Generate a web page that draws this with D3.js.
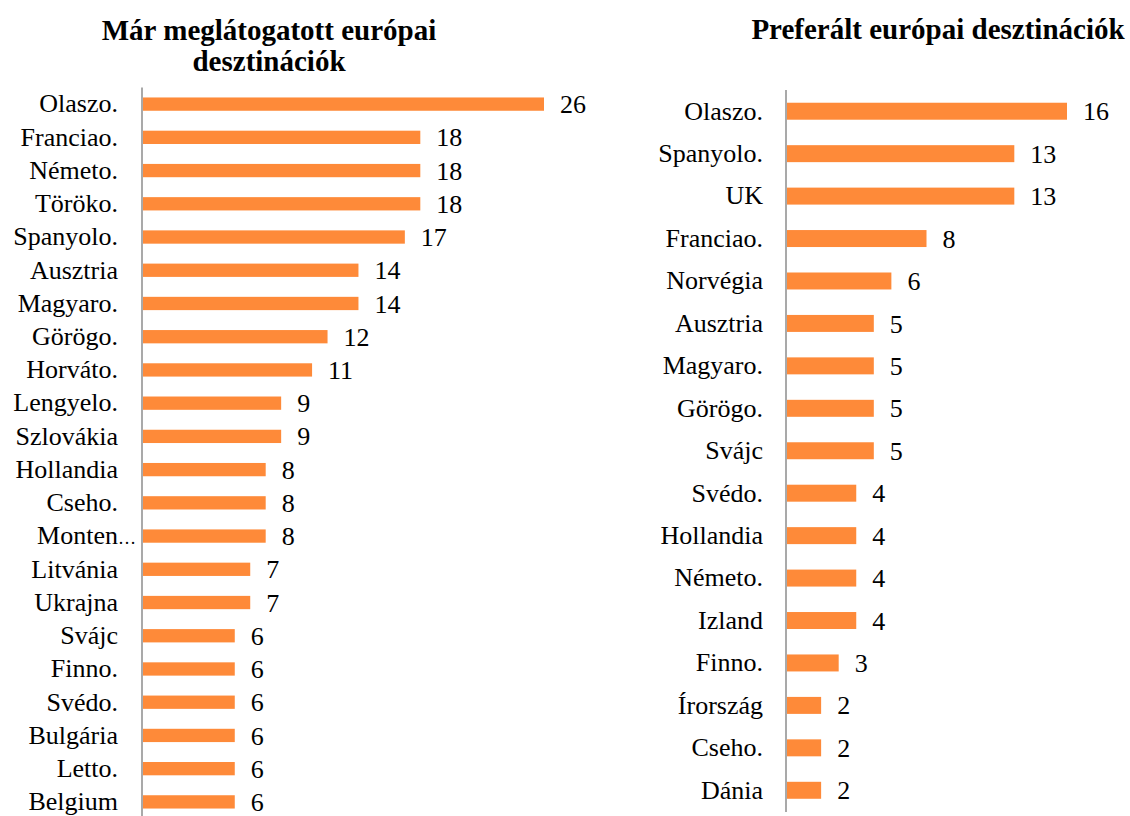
<!DOCTYPE html>
<html>
<head>
<meta charset="utf-8">
<script src="https://cdn.jsdelivr.net/npm/d3@7"></script>
<style>
  body { margin: 0; background: #fff; }
  svg text { font-family: "Liberation Serif", "Times New Roman", serif; fill: #000; }
  .title { font-weight: bold; font-size: 29px; }
  .lbl { font-size: 26px; }
</style>
</head>
<body>
<svg id="chart" width="1130" height="816"></svg>
<script>
// visited destinations (left)
let visited_names = ['Olaszo.', 'Franciao.', 'Németo.', 'Töröko.', 'Spanyolo.', 'Ausztria', 'Magyaro.',
	'Görögo.', 'Horváto.', 'Lengyelo.', 'Szlovákia', 'Hollandia', 'Cseho.', 'Monten…', 'Litvánia',
	'Ukrajna', 'Svájc', 'Finno.', 'Svédo.', 'Bulgária', 'Letto.', 'Belgium'];
let visited_values = [26, 18, 18, 18, 17, 14, 14, 12, 11, 9, 9, 8, 8, 8, 7, 7, 6, 6, 6, 6, 6, 6];

// preferred destinations (right)
let preferred_names = ['Olaszo.', 'Spanyolo.', 'UK', 'Franciao.', 'Norvégia', 'Ausztria', 'Magyaro.',
	'Görögo.', 'Svájc', 'Svédo.', 'Hollandia', 'Németo.', 'Izland', 'Finno.', 'Írország', 'Cseho.', 'Dánia'];
let preferred_values = [16, 13, 13, 8, 6, 5, 5, 5, 5, 4, 4, 4, 4, 3, 2, 2, 2];

let bar_color = '#fe8a39',
	axis_color = '#8c8c8c';

let svg = d3.select('#chart');

function render_panel(cfg) {
	let data = cfg.names.map((n, i) => ({name: n, value: cfg.values[i]}));

	let y = d3.scaleBand().domain(cfg.names)
		.range([cfg.top, cfg.bottom])
		.paddingInner(cfg.pad).paddingOuter(cfg.pad / 2);
	let x = d3.scaleLinear().domain([0, cfg.max])
		.range([cfg.left, cfg.right]);

	let g = svg.append('g');

	// titles
	cfg.title.forEach((t, i) => {
		g.append('text')
			.attr('class', 'title')
			.attr('x', cfg.title_x)
			.attr('y', cfg.title_y + i * 31)
			.attr('text-anchor', 'middle')
			.text(t);
	});

	g.selectAll('.bar')
		.data(data)
		.enter()
		.append('rect')
		.attr('class', 'bar')
		.attr('x', x(0) + 1)
		.attr('y', d => y(d.name))
		.attr('width', d => x(d.value) - x(0) - 1)
		.attr('height', y.bandwidth())
		.attr('fill', bar_color);

	g.selectAll('.val')
		.data(data)
		.enter()
		.append('text')
		.attr('class', 'lbl')
		.attr('x', d => x(d.value) + 16)
		.attr('y', d => y(d.name) + y.bandwidth() / 2)
		.attr('dy', '0.35em')
		.text(d => d.value);

	let axis = g.append('g')
		.attr('transform', `translate(${x(0)},0)`)
		.call(d3.axisLeft(y).tickSize(0).tickPadding(cfg.tick_pad));
	axis.select('.domain')
		.attr('stroke', axis_color)
		.attr('stroke-width', 1.5)
		.attr('d', `M0,${cfg.top}V${cfg.axis_end}`);
	axis.selectAll('.tick text')
		.attr('class', 'lbl')
		.attr('font-family', null)
		.attr('font-size', null)
		.attr('fill', '#000');
	// truncated label: ellipsis sticks out past the label edge
	axis.selectAll('.tick text')
		.filter(d => d.endsWith('…'))
		.attr('x', -6)
		.text(d => d.slice(0, -1))
		.append('tspan')
		.style('font-size', '18px')
		.text('…');
}

render_panel({
	names: visited_names, values: visited_values, max: 26,
	left: 142, right: 544, top: 87.5, bottom: 818.5, axis_end: 816, pad: 0.6, tick_pad: 24,
	title: ['Már meglátogatott európai', 'desztinációk'], title_x: 269, title_y: 40
});

render_panel({
	names: preferred_names, values: preferred_values, max: 16,
	left: 786, right: 1067, top: 90, bottom: 811.5, axis_end: 812, pad: 0.6, tick_pad: 23,
	title: ['Preferált európai desztinációk'], title_x: 938, title_y: 39
});
</script>
</body>
</html>
